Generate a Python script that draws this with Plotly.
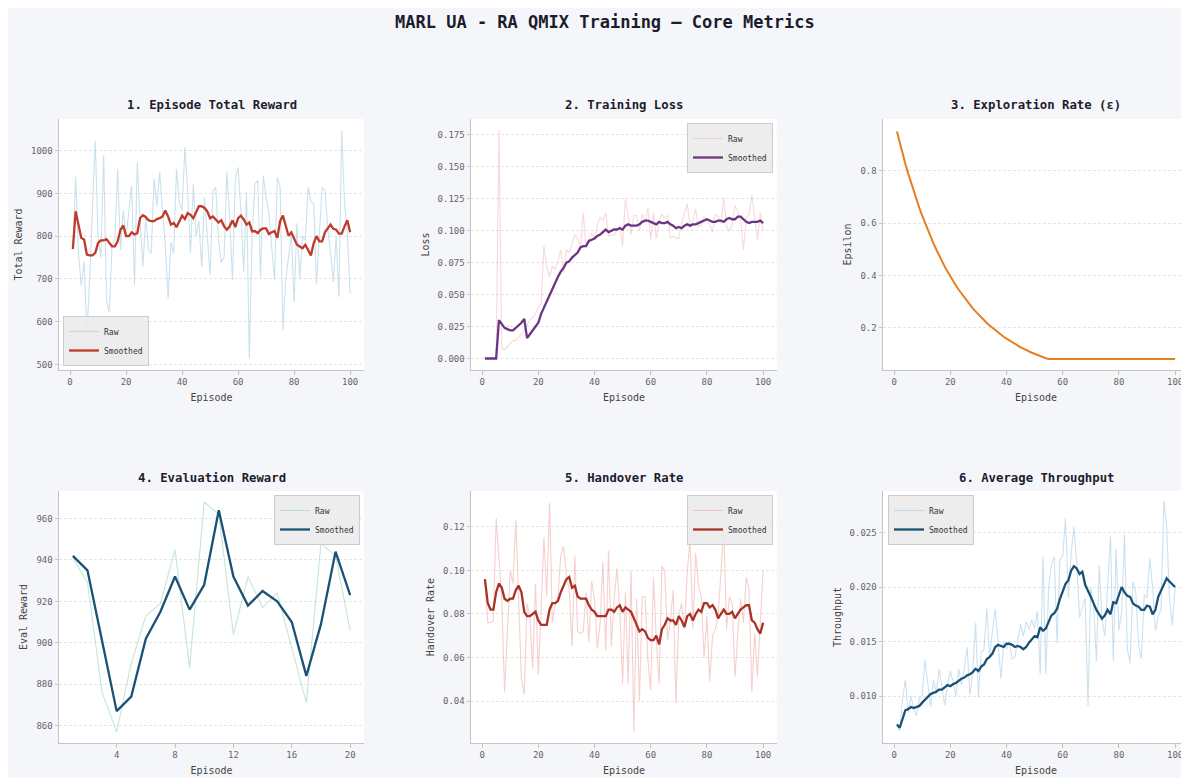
import plotly.graph_objects as go

# ---------------- data ----------------
episodes = list(range(1, 101))
eval_points = list(range(1, 21))

reward_raw = [
    770, 939, 760, 685, 740, 572, 700, 850, 1023, 800,
    750, 990, 650, 622, 780, 790, 957, 767, 860, 800,
    864, 918, 685, 973, 837, 728, 842, 770, 760, 934,
    870, 950, 860, 780, 654, 786, 760, 957, 880, 860,
    1008, 900, 760, 922, 800, 835, 728, 891, 800, 709,
    905, 915, 790, 738, 752, 950, 837, 697, 934, 961,
    860, 716, 903, 514, 800, 922, 930, 705, 942, 890,
    852, 767, 697, 938, 915, 580, 697, 751, 806, 646,
    830, 700, 800, 790, 914, 880, 876, 689, 800, 914,
    907, 820, 760, 693, 800, 658, 1047, 876, 806, 666]
reward_smooth = [
    770, 858, 827, 796, 792, 757, 755, 755, 761, 784,
    790, 790, 793, 784, 776, 776, 788, 815, 825, 800,
    800, 809, 804, 807, 842, 849, 845, 837, 835, 835,
    840, 842, 846, 860, 846, 827, 831, 821, 835, 848,
    840, 854, 850, 842, 856, 870, 870, 866, 858, 842,
    846, 839, 832, 837, 823, 815, 823, 837, 821, 842,
    848, 839, 827, 832, 811, 812, 807, 815, 818, 818,
    805, 809, 812, 796, 835, 848, 823, 801, 809, 796,
    780, 776, 772, 780, 769, 755, 784, 800, 788, 788,
    809, 817, 827, 817, 815, 806, 806, 823, 837, 809]

loss_raw = [
    0, 0, 0, 0, 0, 0.179, 0.008, 0.007, 0.009, 0.012,
    0.014, 0.014, 0.017, 0.019, 0.022, 0.026, 0.030, 0.032, 0.035, 0.040,
    0.043, 0.088, 0.072, 0.064, 0.072, 0.070, 0.076, 0.085, 0.067, 0.085,
    0.083, 0.090, 0.097, 0.094, 0.088, 0.114, 0.087, 0.094, 0.098, 0.093,
    0.104, 0.111, 0.108, 0.114, 0.096, 0.097, 0.096, 0.101, 0.104, 0.088,
    0.125, 0.112, 0.097, 0.112, 0.112, 0.100, 0.113, 0.106, 0.118, 0.093,
    0.114, 0.094, 0.107, 0.113, 0.110, 0.112, 0.094, 0.096, 0.094, 0.094,
    0.106, 0.114, 0.121, 0.103, 0.108, 0.117, 0.103, 0.104, 0.111, 0.108,
    0.105, 0.099, 0.113, 0.111, 0.105, 0.126, 0.103, 0.100, 0.105, 0.120,
    0.115, 0.108, 0.085, 0.110, 0.113, 0.128, 0.110, 0.093, 0.114, 0.100]
loss_smooth = [
    0, 0, 0, 0, 0, 0.030, 0.027, 0.024, 0.023, 0.022,
    0.022, 0.024, 0.026, 0.028, 0.031, 0.016, 0.019, 0.022, 0.025, 0.028,
    0.035, 0.040, 0.045, 0.050, 0.055, 0.060, 0.064, 0.068, 0.071, 0.075,
    0.076, 0.079, 0.081, 0.083, 0.087, 0.088, 0.088, 0.092, 0.093, 0.094,
    0.096, 0.097, 0.099, 0.101, 0.099, 0.100, 0.101, 0.101, 0.102, 0.101,
    0.104, 0.105, 0.104, 0.104, 0.104, 0.105, 0.107, 0.108, 0.108, 0.107,
    0.106, 0.105, 0.107, 0.106, 0.106, 0.107, 0.105, 0.104, 0.102, 0.103,
    0.102, 0.104, 0.105, 0.104, 0.105, 0.105, 0.106, 0.107, 0.108, 0.109,
    0.108, 0.107, 0.107, 0.108, 0.108, 0.107, 0.109, 0.110, 0.109, 0.109,
    0.111, 0.111, 0.109, 0.107, 0.106, 0.107, 0.107, 0.107, 0.108, 0.106]

epsilon = [
    0.950, 0.907, 0.866, 0.827, 0.790, 0.755, 0.721, 0.688, 0.657, 0.628,
    0.600, 0.573, 0.547, 0.522, 0.499, 0.476, 0.455, 0.434, 0.415, 0.396,
    0.378, 0.361, 0.345, 0.330, 0.315, 0.300, 0.287, 0.274, 0.262, 0.250,
    0.239, 0.228, 0.218, 0.208, 0.199, 0.190, 0.181, 0.173, 0.165, 0.158,
    0.151, 0.144, 0.137, 0.131, 0.125, 0.120, 0.114, 0.109, 0.104, 0.100,
    0.095, 0.091, 0.087, 0.083, 0.080, 0.080, 0.080, 0.080, 0.080, 0.080,
    0.080, 0.080, 0.080, 0.080, 0.080, 0.080, 0.080, 0.080, 0.080, 0.080,
    0.080, 0.080, 0.080, 0.080, 0.080, 0.080, 0.080, 0.080, 0.080, 0.080,
    0.080, 0.080, 0.080, 0.080, 0.080, 0.080, 0.080, 0.080, 0.080, 0.080,
    0.080, 0.080, 0.080, 0.080, 0.080, 0.080, 0.080, 0.080, 0.080, 0.080]

eval_raw = [941, 929, 876, 857, 890, 913, 919, 945, 888, 968,
            962, 904, 932, 917, 924, 898, 871, 948, 942, 906]
eval_smooth = [942, 935, 901, 867, 874, 902, 915, 932, 916, 928,
               964, 932, 918, 925, 920, 910, 884, 909, 944, 923]

handover_raw = [
    0.095, 0.076, 0.076, 0.077, 0.124, 0.107, 0.087, 0.044, 0.073, 0.100,
    0.094, 0.123, 0.087, 0.050, 0.043, 0.085, 0.079, 0.055, 0.094, 0.052,
    0.082, 0.115, 0.088, 0.131, 0.076, 0.084, 0.088, 0.107, 0.111, 0.098,
    0.091, 0.065, 0.107, 0.072, 0.071, 0.072, 0.090, 0.067, 0.095, 0.087,
    0.064, 0.076, 0.104, 0.063, 0.109, 0.065, 0.087, 0.101, 0.082, 0.048,
    0.090, 0.048, 0.100, 0.026, 0.087, 0.040, 0.088, 0.088, 0.059, 0.045,
    0.097, 0.068, 0.048, 0.102, 0.100, 0.068, 0.077, 0.091, 0.039, 0.079,
    0.085, 0.073, 0.099, 0.115, 0.073, 0.108, 0.093, 0.088, 0.060, 0.079,
    0.049, 0.070, 0.073, 0.079, 0.099, 0.120, 0.073, 0.088, 0.085, 0.051,
    0.071, 0.087, 0.076, 0.097, 0.091, 0.044, 0.071, 0.051, 0.076, 0.100]
handover_smooth = [
    0.096, 0.085, 0.082, 0.082, 0.090, 0.094, 0.092, 0.087, 0.086, 0.087,
    0.087, 0.091, 0.093, 0.090, 0.081, 0.079, 0.079, 0.080, 0.081, 0.077,
    0.075, 0.075, 0.075, 0.082, 0.085, 0.085, 0.086, 0.090, 0.093, 0.096,
    0.097, 0.092, 0.093, 0.088, 0.087, 0.087, 0.087, 0.084, 0.082, 0.081,
    0.079, 0.079, 0.079, 0.079, 0.082, 0.082, 0.081, 0.083, 0.084, 0.081,
    0.083, 0.082, 0.081, 0.078, 0.075, 0.072, 0.073, 0.072, 0.069, 0.068,
    0.068, 0.070, 0.066, 0.073, 0.075, 0.078, 0.077, 0.077, 0.075, 0.079,
    0.077, 0.074, 0.079, 0.080, 0.077, 0.080, 0.082, 0.081, 0.085, 0.085,
    0.083, 0.084, 0.082, 0.078, 0.080, 0.082, 0.080, 0.080, 0.081, 0.078,
    0.080, 0.082, 0.083, 0.084, 0.084, 0.077, 0.076, 0.073, 0.071, 0.076]

throughput_raw = [
    0.0075, 0.0068, 0.0098, 0.0115, 0.0085, 0.0100, 0.0088, 0.0082, 0.0098, 0.0101,
    0.0133, 0.0110, 0.0090, 0.0115, 0.0102, 0.0125, 0.0110, 0.0092, 0.0110, 0.0123,
    0.0113, 0.0100, 0.0125, 0.0110, 0.0125, 0.0145, 0.0101, 0.0123, 0.0167, 0.0099,
    0.0140, 0.0143, 0.0180, 0.0135, 0.0160, 0.0180, 0.0150, 0.0116, 0.0150, 0.0143,
    0.0150, 0.0134, 0.0136, 0.0150, 0.0166, 0.0155, 0.0168, 0.0161, 0.0170, 0.0162,
    0.0178, 0.0120, 0.0228, 0.0120, 0.0200, 0.0220, 0.0228, 0.0148, 0.0225, 0.0228,
    0.0263, 0.0190, 0.0230, 0.0255, 0.0222, 0.0172, 0.0180, 0.0190, 0.0091, 0.0200,
    0.0183, 0.0132, 0.0220, 0.0170, 0.0155, 0.0205, 0.0247, 0.0132, 0.0235, 0.0160,
    0.0178, 0.0248, 0.0143, 0.0130, 0.0205, 0.0195, 0.0147, 0.0134, 0.0193, 0.0190,
    0.0226, 0.0200, 0.0160, 0.0173, 0.0180, 0.0279, 0.0255, 0.0190, 0.0165, 0.0200]
throughput_smooth = [
    0.0074, 0.0071, 0.0079, 0.0087, 0.0088, 0.0090, 0.0089, 0.0090, 0.0091, 0.0094,
    0.0097, 0.0100, 0.0102, 0.0103, 0.0104, 0.0106, 0.0106, 0.0108, 0.0110, 0.0109,
    0.0111, 0.0112, 0.0114, 0.0116, 0.0117, 0.0119, 0.0120, 0.0122, 0.0125, 0.0123,
    0.0127, 0.0129, 0.0134, 0.0136, 0.0139, 0.0145, 0.0147, 0.0146, 0.0145, 0.0148,
    0.0148, 0.0147, 0.0145, 0.0146, 0.0145, 0.0143, 0.0145, 0.0149, 0.0152, 0.0155,
    0.0154, 0.0163, 0.0160, 0.0162, 0.0168, 0.0174, 0.0176, 0.0180, 0.0189, 0.0197,
    0.0203, 0.0206, 0.0215, 0.0219, 0.0217, 0.0212, 0.0214, 0.0202, 0.0197, 0.0191,
    0.0185, 0.0179, 0.0175, 0.0171, 0.0174, 0.0179, 0.0175, 0.0186, 0.0185, 0.0192,
    0.0200, 0.0195, 0.0192, 0.0191, 0.0185, 0.0183, 0.0182, 0.0179, 0.0179, 0.0183,
    0.0182, 0.0175, 0.0179, 0.0191, 0.0197, 0.0203, 0.0208, 0.0205, 0.0202, 0.0200]

panel_titles = ["1. Episode Total Reward", "2. Training Loss", "3. Exploration Rate (ε)",
                "4. Evaluation Reward", "5. Handover Rate", "6. Average Throughput"]
y_titles = ["Total Reward", "Loss", "Epsilon", "Eval Reward", "Handover Rate", "Throughput"]
main_title = "MARL UA - RA QMIX Training — Core Metrics"

# ---------------- layout geometry (page pixels; page body has an 8px margin) ----------------
OFF = 8
W, H = 1189 - OFF, 778 - OFF
FONT = "DejaVu Sans Mono"
cols_px = [(59, 364), (471, 777), (883, 1189)]
rows_px = [(119, 370), (491, 743)]


def fx(p):
    return (p - OFF) / W


def fy(p):
    return 1 - (p - OFF) / H


def xdom(c):
    return [fx(cols_px[c][0]), min(fx(cols_px[c][1]), 1.0)]


def ydom(r):
    return [fy(rows_px[r][1]), fy(rows_px[r][0])]


fig = go.Figure()

panels = [
    # (x, raw, smooth, raw color, smooth color, legend)
    (episodes, reward_raw, reward_smooth, "rgba(160,200,222,0.55)", "#c0392b", "legend"),
    (episodes, loss_raw, loss_smooth, "rgba(240,170,170,0.45)", "#6c3483", "legend2"),
    (episodes, None, epsilon, None, "#e67e22", None),
    (eval_points, eval_raw, eval_smooth, "rgba(150,210,180,0.55)", "#1a5276", "legend3"),
    (episodes, handover_raw, handover_smooth, "rgba(232,150,145,0.45)", "#a93226", "legend4"),
    (episodes, throughput_raw, throughput_smooth, "rgba(160,200,228,0.55)", "#1a5276", "legend5"),
]

for i, (xs, raw, sm, rc, sc, lg) in enumerate(panels):
    ax = "" if i == 0 else str(i + 1)
    if raw is not None:
        fig.add_trace(go.Scatter(x=xs, y=raw, mode="lines", name="Raw",
                                 line=dict(color=rc, width=1.1),
                                 xaxis="x" + ax, yaxis="y" + ax, legend=lg,
                                 showlegend=True))
        fig.add_trace(go.Scatter(x=xs, y=sm, mode="lines", name="Smoothed",
                                 line=dict(color=sc, width=2.3),
                                 xaxis="x" + ax, yaxis="y" + ax, legend=lg,
                                 showlegend=True))
    else:
        fig.add_trace(go.Scatter(x=xs, y=sm, mode="lines", name="Epsilon",
                                 line=dict(color=sc, width=2.0),
                                 xaxis="x" + ax, yaxis="y" + ax, showlegend=False))

y_ranges = [[487, 1074], [-0.009, 0.1875], [0.038, 0.998], [851.6, 973.3],
            [0.0207, 0.1365], [0.0057, 0.0288]]
y_ticks = [dict(tick0=500, dtick=100, tickformat="d"),
           dict(tick0=0, dtick=0.025, tickformat=".3f"),
           dict(tick0=0, dtick=0.2, tickformat=".1f"),
           dict(tick0=860, dtick=20, tickformat="d"),
           dict(tick0=0.04, dtick=0.02, tickformat=".2f"),
           dict(tick0=0.01, dtick=0.005, tickformat=".3f")]
x_ranges = [[-3.95, 104.95]] * 3 + [[0.05, 20.95]] + [[-3.95, 104.95]] * 2
x_ticks = [dict(tick0=0, dtick=20)] * 3 + [dict(tick0=0, dtick=4)] + [dict(tick0=0, dtick=20)] * 2

common = dict(showline=True, linecolor="#c4c4c4", linewidth=1, ticks="outside",
              ticklen=3.5, tickwidth=1, tickcolor="#c4c4c4",
              tickfont=dict(family=FONT, size=9, color="#666666"),
              zeroline=False, automargin=False, fixedrange=True)

layout_axes = {}
for i in range(6):
    r, c = divmod(i, 3)
    ax = "" if i == 0 else str(i + 1)
    layout_axes["xaxis" + ax] = dict(
        common, domain=xdom(c), range=x_ranges[i], anchor="y" + ax,
        showgrid=False, tickmode="linear", **x_ticks[i],
        title=dict(text="Episode", font=dict(family=FONT, size=10, color="#444444"),
                   standoff=7))
    layout_axes["yaxis" + ax] = dict(
        common, domain=ydom(r), range=y_ranges[i], anchor="x" + ax,
        showgrid=True, gridcolor="#e6e6e6", gridwidth=0.8, griddash="3px,2px",
        tickmode="linear", **y_ticks[i],
        title=dict(text=y_titles[i], font=dict(family=FONT, size=10, color="#444444"),
                   standoff=6))

annotations = [dict(text="<b>" + main_title + "</b>", x=fx(605), y=fy(22),
                    xref="paper", yref="paper", showarrow=False,
                    xanchor="center", yanchor="middle",
                    font=dict(family=FONT, size=17, color="#1c1c2e"))]
title_y = [105, 478]
for i, t in enumerate(panel_titles):
    r, c = divmod(i, 3)
    cx = (cols_px[c][0] + cols_px[c][1]) / 2
    annotations.append(dict(text="<b>" + t + "</b>", x=fx(cx), y=fy(title_y[r]),
                            xref="paper", yref="paper", showarrow=False,
                            xanchor="center", yanchor="middle",
                            font=dict(family=FONT, size=12.3, color="#1c1c2e")))

leg_common = dict(bgcolor="rgba(236,236,236,0.92)", bordercolor="#cccccc", borderwidth=1,
                  font=dict(family=FONT, size=8, color="#333333"),
                  itemwidth=30, tracegroupgap=0, xref="paper", yref="paper")

fig.update_layout(
    width=W, height=H,
    margin=dict(l=0, r=0, t=0, b=0),
    paper_bgcolor="#f5f6f9",
    plot_bgcolor="#ffffff",
    font=dict(family=FONT, color="#333333"),
    annotations=annotations,
    legend=dict(leg_common, x=fx(63), y=fy(366), xanchor="left", yanchor="bottom"),
    legend2=dict(leg_common, x=fx(773), y=fy(123), xanchor="right", yanchor="top"),
    legend3=dict(leg_common, x=fx(360), y=fy(495), xanchor="right", yanchor="top"),
    legend4=dict(leg_common, x=fx(773), y=fy(495), xanchor="right", yanchor="top"),
    legend5=dict(leg_common, x=fx(888), y=fy(495), xanchor="left", yanchor="top"),
    **layout_axes,
)

fig.write_html("out.html")
